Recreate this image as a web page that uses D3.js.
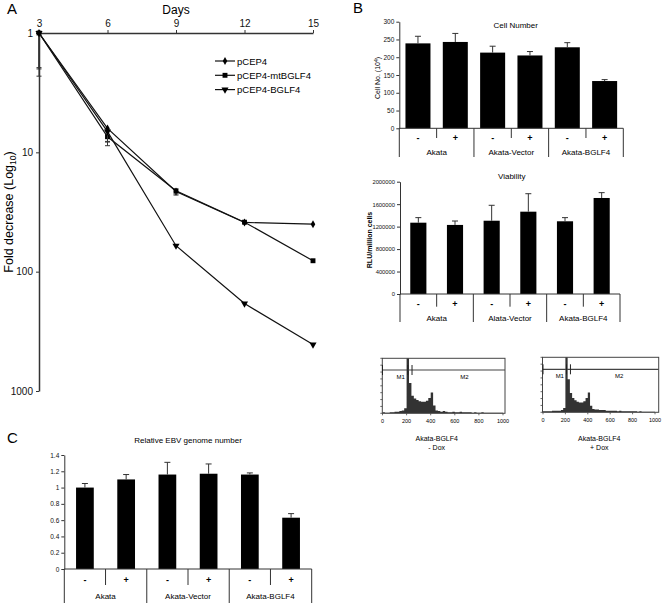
<!DOCTYPE html>
<html><head><meta charset="utf-8">
<script src="https://cdn.jsdelivr.net/npm/d3@7"></script>
<style>body{margin:0;background:#fff;} svg{display:block;font-family:"Liberation Sans",Arial,sans-serif;}</style>
</head><body><svg id="c" width="664" height="603"></svg>
<script>
// ---------- DATA ----------
// Panel A
const days = [3, 6, 9, 12, 15];
const seriesNames = ["pCEP4", "pCEP4-mtBGLF4", "pCEP4-BGLF4"];
const pCEP4 = [1, 6.3, 21.3, 38.7, 40];
const mtBGLF4 = [1, 7.4, 21, 38.5, 81];
const BGLF4 = [1, 6.7, 60.6, 185, 408];
const pCEP4Sd = [1.0, 1.8, 1.5, 0, 0];
const mtBGLF4Sd = [1.3, 1.4, 1.3, 0, 0];
const BGLF4Sd = [0.95, 1.5, 0, 0, 0];
const yTicksA = [1, 10, 100, 1000];

// Panel B / C
const signs = ["-", "+", "-", "+", "-", "+"];
const groupsCell = ["Akata", "Akata-Vector", "Akata-BGLF4"];
const cellNumber = [239, 243, 213, 205, 228, 133];
const cellErr = [20, 24, 18, 11, 13, 4];
const cellTicks = [0, 50, 100, 150, 200, 250, 300];

const groupsViab = ["Akata", "Alata-Vector", "Akata-BGLF4"];
const viability = [1270000, 1230000, 1305000, 1466000, 1295000, 1710000];
const viabErr = [90000, 70000, 275000, 320000, 65000, 95000];
const viabTicks = [0, 400000, 800000, 1200000, 1600000, 2000000];

const groupsEbv = ["Akata", "Akata-Vector", "Akata-BGLF4"];
const ebv = [1.0, 1.10, 1.16, 1.17, 1.16, 0.63];
const ebvErr = [0.05, 0.06, 0.15, 0.12, 0.02, 0.05];
const ebvTicks = [0, 0.2, 0.4, 0.6, 0.8, 1, 1.2, 1.4];

// Histograms (DNA content, bins of 20 starting at 0; % of max)
const histBins = d3.range(0, 1000, 20);
const histMinusDox = [2,1,1,2,2,3,3,4,5,9,100,55,32,27,24,22,21,21,23,28,38,14,5,4,3,4,3,2,2,3,2,2,3,2,2,2,2,1,2,1,1,2,1,1,1,1,1,1,1,1];
const histPlusDox  = [2,2,2,2,3,3,3,3,4,8,100,60,35,26,22,19,18,18,20,26,36,12,6,5,5,4,4,4,3,3,3,3,3,2,3,2,2,2,2,2,2,2,1,2,1,1,1,1,1,1];
const histTicks = [0, 200, 400, 600, 800, 1000];

// ---------- DRAW ----------
const svg = d3.select("#c");
svg.append("rect").attr("width", 664).attr("height", 603).attr("fill", "#fff");
const AX = "#333";

function styleAxis(g, fs) {
  g.select(".domain").attr("stroke", AX);
  g.selectAll(".tick line").attr("stroke", AX);
  g.selectAll("text").attr("font-size", fs).attr("fill", "#111").attr("font-family", '"Liberation Sans", Arial, sans-serif');
}

// Panel labels
svg.append("text").attr("x", 7).attr("y", 14).attr("font-size", 15).text("A");
svg.append("text").attr("x", 353).attr("y", 13).attr("font-size", 15).text("B");
svg.append("text").attr("x", 7).attr("y", 443).attr("font-size", 15).text("C");

// ===== Panel A =====
const xA = d3.scaleLinear().domain([3, 15]).range([39, 313]);
const yA = d3.scaleLog().domain([1, 1000]).range([33, 391]);
const gA = svg.append("g");
gA.append("g").attr("transform", "translate(0,33)")
  .call(d3.axisTop(xA).tickValues(days).tickSize(3).tickSizeOuter(0).tickFormat(d3.format("d")))
  .call(g => { styleAxis(g, 10); g.select(".domain").attr("stroke-width", 1.5); });
gA.append("g").attr("transform", "translate(39,0)")
  .call(d3.axisLeft(yA).tickValues(yTicksA).tickSize(3).tickSizeOuter(0).tickFormat(d => d))
  .call(g => { styleAxis(g, 10); g.select(".domain").attr("stroke-width", 1.5); });
gA.append("text").attr("x", 176).attr("y", 14).attr("text-anchor", "middle").attr("font-size", 12).text("Days");
const yl = gA.append("text").attr("transform", "translate(13,212) rotate(-90)").attr("text-anchor", "middle").attr("font-size", 12.5);
yl.append("tspan").text("Fold decrease (Log");
yl.append("tspan").attr("font-size", 8.5).attr("dy", 3).text("10");
yl.append("tspan").attr("dy", -3).text(")");

const seriesA = [
  {name: seriesNames[0], vals: pCEP4, sd: pCEP4Sd, sym: d3.symbolDiamond, size: 18},
  {name: seriesNames[1], vals: mtBGLF4, sd: mtBGLF4Sd, sym: d3.symbolSquare, size: 24},
  {name: seriesNames[2], vals: BGLF4, sd: BGLF4Sd, sym: d3.symbolTriangle, size: 22, rot: 180}
];
const lineA = d3.line().x((d, i) => xA(days[i])).y(d => yA(d));
seriesA.forEach(s => {
  gA.append("path").attr("d", lineA(s.vals)).attr("fill", "none").attr("stroke", "#111").attr("stroke-width", 1.2);
  s.vals.forEach((v, i) => {
    if (s.sd[i] > 0) {
      const x = xA(days[i]), y1 = yA(v), y2 = yA(v + s.sd[i]);
      gA.append("line").attr("x1", x).attr("x2", x).attr("y1", y1).attr("y2", y2).attr("stroke", "#333").attr("stroke-width", 1);
      gA.append("line").attr("x1", x - 2.5).attr("x2", x + 2.5).attr("y1", y2).attr("y2", y2).attr("stroke", "#333").attr("stroke-width", 1);
    }
    gA.append("path").attr("d", d3.symbol(s.sym, s.size)())
      .attr("transform", `translate(${xA(days[i])},${yA(v)}) rotate(${s.rot || 0})`).attr("fill", "#000");
  });
});
// legend
seriesA.forEach((s, k) => {
  const y = 61 + k * 14.3;
  gA.append("line").attr("x1", 215).attr("x2", 235).attr("y1", y).attr("y2", y).attr("stroke", "#111").attr("stroke-width", 1.2);
  gA.append("path").attr("d", d3.symbol(s.sym, s.size)()).attr("transform", `translate(225,${y}) rotate(${s.rot || 0})`).attr("fill", "#000");
  gA.append("text").attr("x", 237).attr("y", y + 3.5).attr("font-size", 9.5).text(s.name);
});

// ===== Bar panels =====
function barPanel(o) {
  const n = o.values.length;
  const x = d3.scaleBand().domain(d3.range(n)).range([o.x0, o.x1]).paddingInner(o.pad).paddingOuter(o.pad / 2);
  const y = d3.scaleLinear().domain([0, o.max]).range([o.y0, o.y1]);
  const g = svg.append("g");
  g.append("g").attr("transform", `translate(${o.x0},0)`)
    .call(d3.axisLeft(y).tickValues(o.ticks).tickSize(3).tickSizeOuter(0).tickFormat(o.fmt))
    .call(gg => { styleAxis(gg, o.tfs || 6.5); gg.selectAll("text").attr("x", -5); });
  g.selectAll("rect.bar").data(o.values).join("rect")
    .attr("x", (d, i) => x(i)).attr("width", x.bandwidth())
    .attr("y", d => y(d)).attr("height", d => o.y0 - y(d)).attr("fill", "#000");
  o.values.forEach((v, i) => {
    const cx = x(i) + x.bandwidth() / 2, yt = y(v + o.err[i]);
    g.append("line").attr("x1", cx).attr("x2", cx).attr("y1", y(v)).attr("y2", yt).attr("stroke", "#333").attr("stroke-width", 1);
    g.append("line").attr("x1", cx - 3).attr("x2", cx + 3).attr("y1", yt).attr("y2", yt).attr("stroke", "#333").attr("stroke-width", 1);
  });
  g.append("line").attr("x1", o.x0).attr("x2", o.x1).attr("y1", o.y0).attr("y2", o.y0).attr("stroke", AX);
  const step = (o.x1 - o.x0) / n;
  for (let k = 0; k <= n; k++) {
    const xx = o.x0 + k * step;
    g.append("line").attr("x1", xx).attr("x2", xx).attr("y1", o.y0).attr("y2", k % 2 === 0 ? o.gy : o.my).attr("stroke", AX);
  }
  o.signs.forEach((s, i) => {
    g.append("text").attr("x", x(i) + x.bandwidth() / 2).attr("y", o.sy).attr("text-anchor", "middle")
      .attr("font-size", 9).attr("font-weight", "bold").text(s);
  });
  o.groups.forEach((s, i) => {
    g.append("text").attr("x", o.x0 + (2 * i + 1) * step).attr("y", o.groupY).attr("text-anchor", "middle")
      .attr("font-size", 8).text(s);
  });
  if (o.title) g.append("text").attr("x", o.tx).attr("y", o.ty).attr("text-anchor", "middle").attr("font-size", 8).text(o.title);
  return g;
}

const gCell = barPanel({values: cellNumber, err: cellErr, max: 300, ticks: cellTicks, fmt: d3.format("d"),
  x0: 399.3, x1: 623.3, y0: 128.3, y1: 21.7, pad: 0.33, gy: 157, my: 138, sy: 140.5, groupY: 154.5,
  signs: signs, groups: groupsCell, title: "Cell Number", tx: 515.7, ty: 28});
const cl = gCell.append("text").attr("transform", "translate(380,78) rotate(-90)").attr("text-anchor", "middle").attr("font-size", 7);
cl.append("tspan").text("Cell No. (10");
cl.append("tspan").attr("font-size", 5).attr("dy", -2.5).text("4");
cl.append("tspan").attr("dy", 2.5).text(")");

const gViab = barPanel({values: viability, err: viabErr, max: 2000000, ticks: viabTicks, fmt: d3.format("d"), tfs: 5.8,
  x0: 400, x1: 620, y0: 294, y1: 181.7, pad: 0.56, gy: 322, my: 306.7, sy: 306.5, groupY: 321,
  signs: signs, groups: groupsViab, title: "Viability", tx: 511.7, ty: 178.5});
gViab.append("text").attr("transform", "translate(372,240) rotate(-90)").attr("text-anchor", "middle")
  .attr("font-size", 7).attr("font-weight", "bold").text("RLU/million cells");

barPanel({values: ebv, err: ebvErr, max: 1.4, ticks: ebvTicks, fmt: d => d3.format("~g")(d),
  x0: 64.3, x1: 311.7, y0: 569, y1: 455, pad: 0.57, gy: 603, my: 585, sy: 582.5, groupY: 599,
  signs: signs, groups: groupsEbv, title: "Relative EBV genome number", tx: 188, ty: 443});

// ===== Histograms =====
function histo(o) {
  const x = d3.scaleLinear().domain([0, 1000]).range([o.x0, o.x1]);
  const y = d3.scaleLinear().domain([0, 100]).range([o.yb, o.yt]);
  const g = svg.append("g");
  const pts = histBins.map((b, i) => [b, o.vals[i]]);
  pts.push([1000, o.vals[o.vals.length - 1]]);
  g.append("path").attr("d", d3.area().x(d => x(d[0])).y0(o.yb).y1(d => y(d[1])).curve(d3.curveStepAfter)(pts))
    .attr("fill", "#333");
  g.append("rect").attr("x", o.bx0).attr("y", o.yt).attr("width", o.bx1 - o.bx0).attr("height", o.yb - o.yt)
    .attr("fill", "none").attr("stroke", "#444").attr("stroke-width", 1);
  g.append("line").attr("x1", o.bx0).attr("x2", o.bx1).attr("y1", o.ym).attr("y2", o.ym).attr("stroke", "#444").attr("stroke-width", 1.2);
  [0, 210, 245].forEach(v => {
    g.append("line").attr("x1", x(v)).attr("x2", x(v)).attr("y1", o.ym - 5).attr("y2", o.ym + 5).attr("stroke", "#222").attr("stroke-width", 1);
  });
  d3.range(0, 9).forEach(k => {
    const yy = o.yb - k * (o.yb - o.yt) / 8;
    g.append("line").attr("x1", o.bx0 - 2).attr("x2", o.bx0).attr("y1", yy).attr("y2", yy).attr("stroke", "#444").attr("stroke-width", 0.8);
  });
  g.append("text").attr("x", x(150)).attr("y", o.ym + 9).attr("text-anchor", "middle").attr("font-size", 6).text("M1");
  g.append("text").attr("x", x(680)).attr("y", o.ym + 9).attr("text-anchor", "middle").attr("font-size", 6).text("M2");
  histTicks.forEach(t => {
    g.append("line").attr("x1", x(t)).attr("x2", x(t)).attr("y1", o.yb).attr("y2", o.yb + 2).attr("stroke", "#444").attr("stroke-width", 0.8);
    g.append("text").attr("x", x(t)).attr("y", o.yb + 9.5).attr("text-anchor", "middle").attr("font-size", 5.5).text(t);
  });
  g.append("text").attr("x", o.cx).attr("y", 440.8).attr("text-anchor", "middle").attr("font-size", 7).text(o.cap1);
  g.append("text").attr("x", o.cx).attr("y", 449.8).attr("text-anchor", "middle").attr("font-size", 7).text(o.cap2);
}
histo({vals: histMinusDox, x0: 382.5, x1: 503, bx0: 382.3, bx1: 505, yt: 358.3, yb: 413.3, ym: 370,
  cx: 436.7, cap1: "Akata-BGLF4", cap2: "- Dox"});
histo({vals: histPlusDox, x0: 543, x1: 655, bx0: 542.5, bx1: 658.7, yt: 357.3, yb: 412.3, ym: 369.3,
  cx: 599.3, cap1: "Akata-BGLF4", cap2: "+ Dox"});
</script>
</body></html>
